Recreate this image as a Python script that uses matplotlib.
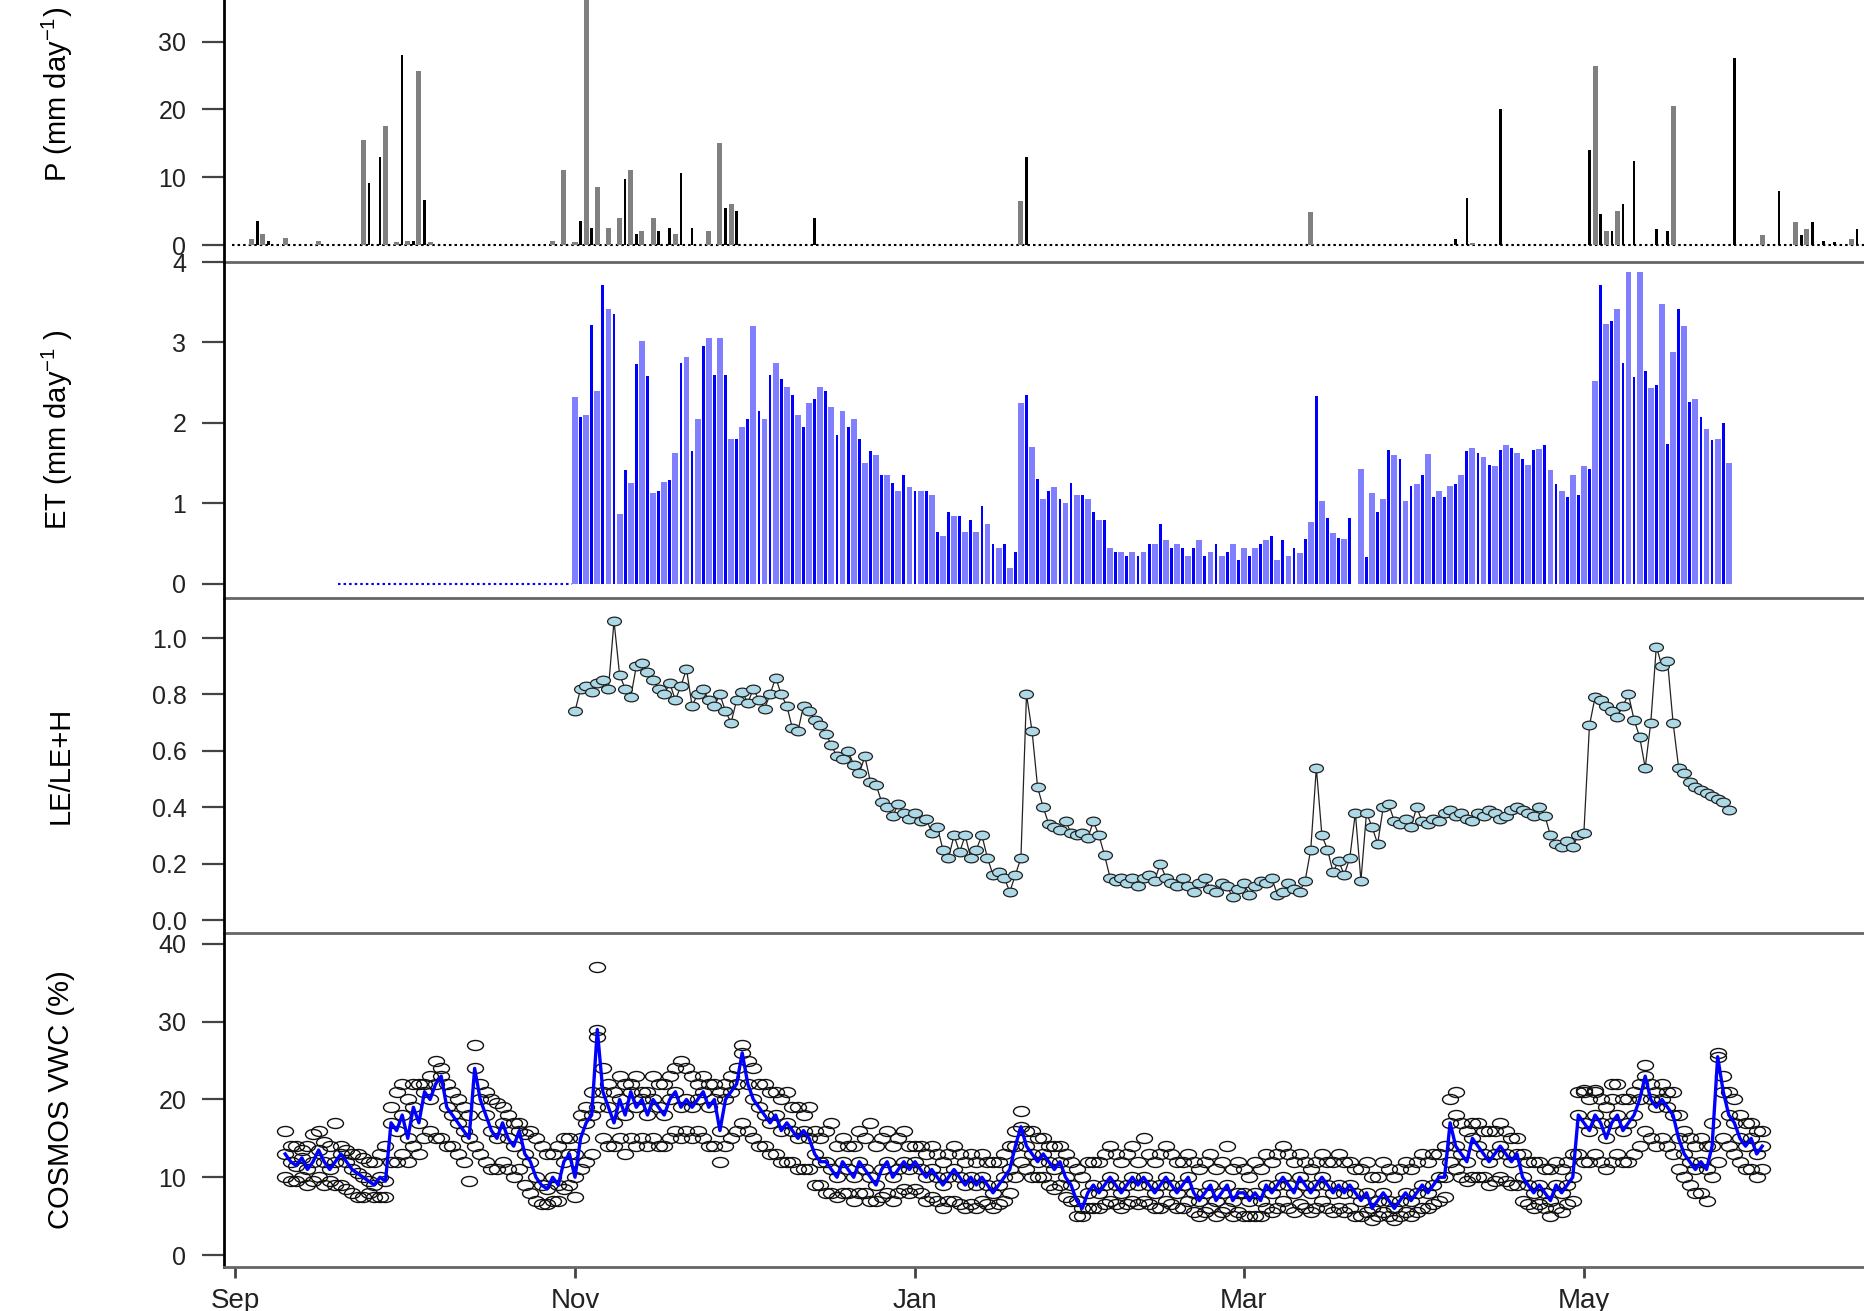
import numpy as np
import pandas as pd
import matplotlib
matplotlib.use("Agg")
import matplotlib.pyplot as plt
from matplotlib.path import Path
from matplotlib.markers import MarkerStyle
from matplotlib.transforms import Affine2D

plt.rcParams['font.family'] = ['Liberation Sans', 'DejaVu Sans']
plt.rcParams['mathtext.fontset'] = 'custom'
plt.rcParams['mathtext.rm'] = 'Liberation Sans'
plt.rcParams['mathtext.it'] = 'Liberation Sans:italic'

# all x values are days since 1 Sep 2014
start = pd.Timestamp('2014-09-01')

# precipitation (mm/day)
p_days = [3, 4, 5, 6, 9, 15, 23, 24, 26, 27, 29, 30, 31, 32, 33, 34, 35,
          57, 59, 61, 62, 63, 64, 65, 67, 69, 70, 71, 72, 73, 75, 76, 78, 79, 80, 82,
          85, 87, 88, 89, 90, 104, 141, 142, 193,
          219, 221, 222, 227, 243, 244, 245, 246, 247, 248, 249, 251, 255, 257, 258,
          269, 274, 277, 280, 281, 282, 283, 285, 287, 290, 291]
p_vals = [0.9, 3.6, 1.6, 0.6, 1.0, 0.6, 15.5, 9.2, 13.0, 17.5, 0.5, 28.0, 0.6, 0.6, 25.6, 6.6, 0.5,
          0.6, 11.0, 0.5, 3.6, 38.0, 2.5, 8.5, 2.5, 4.0, 9.7, 11.0, 1.6, 2.0, 4.0, 2.0, 2.5, 1.6, 10.6, 2.5,
          2.0, 15.0, 5.5, 6.0, 5.0, 4.0, 6.5, 13.0, 4.9,
          0.9, 6.9, 0.3, 20.1, 14.0, 26.4, 4.6, 2.0, 2.0, 5.0, 6.0, 12.4, 2.4, 2.0, 20.5,
          27.6, 1.5, 8.0, 3.4, 1.5, 2.4, 3.4, 0.6, 0.5, 0.9, 2.4]

# evapotranspiration (mm/day), zero from day 19, measured from day 61
et_first_day = 19
et_vals = [0.0] * 42 + [
    2.32, 2.08, 2.1, 3.22, 2.4, 3.72, 3.42, 3.35, 0.87, 1.42, 1.25, 2.73, 3.02, 2.58, 1.13, 1.16,
    1.27, 1.29, 1.63, 2.74, 2.82, 1.65, 2.05, 2.96,
    3.05, 2.6, 3.05, 2.6, 1.8, 1.8, 1.95, 2.05, 3.2, 2.15, 2.05, 2.6, 2.75, 2.55, 2.45, 2.35,
    2.1, 1.95, 2.25, 2.3, 2.45, 2.4, 2.2, 1.85, 2.15, 1.95, 2.05, 1.8, 1.5, 1.65, 1.6, 1.35,
    1.35, 1.25, 1.15, 1.35, 1.2, 1.15, 1.15, 1.15, 1.1,
    0.65, 0.6, 0.9, 0.85, 0.85, 0.65, 0.8, 0.65, 0.97, 0.75, 0.5, 0.45, 0.5, 0.2, 0.4,
    2.25, 2.35, 1.7, 1.3, 1.05, 1.15, 1.2, 1.05, 1.0, 1.25, 1.1, 1.1, 1.05, 0.9, 0.8, 0.8,
    0.45, 0.4, 0.4, 0.35, 0.4, 0.35, 0.4, 0.5, 0.5, 0.75, 0.55, 0.45, 0.5, 0.45, 0.35, 0.45,
    0.55, 0.35, 0.4, 0.5, 0.35, 0.4, 0.5, 0.3, 0.45, 0.35, 0.45, 0.5, 0.55, 0.6, 0.3, 0.55,
    0.35, 0.45,
    0.39, 0.56, 0.77, 2.33, 1.03, 0.82, 0.63, 0.57, 0.56, 0.82, np.nan, 1.43, 0.34, 1.13, 0.89,
    1.06, 1.67, 1.60, 1.55, 1.03, 1.22, 1.24, 1.36, 1.61, 1.08, 1.15, 1.08, 1.22, 1.24, 1.36,
    1.65, 1.69, 1.63, 1.58, 1.48, 1.46, 1.67, 1.73, 1.69, 1.63, 1.55, 1.48, 1.67, 1.68, 1.73,
    1.42, 1.24, 1.16, 1.08, 1.36, 1.10, 1.47, 1.43, 2.52, 3.72, 3.23, 3.27, 3.41, 2.74, 3.87,
    2.57, 3.87, 2.64, 2.44, 2.47, 3.48, 1.74, 2.88, 3.41, 3.21, 2.26, 2.30, 2.07, 1.93, 1.79,
    1.80, 2.0, 1.50]

# evaporative fraction LE/(LE+H), daily from day 61
le_first_day = 61
le_vals = [
    0.74, 0.82, 0.83, 0.81, 0.84, 0.85, 0.82, 1.06, 0.87, 0.82,
    0.79, 0.9, 0.91, 0.88, 0.85, 0.82, 0.8, 0.84, 0.78, 0.83,
    0.89, 0.76, 0.8, 0.82, 0.78, 0.76, 0.8, 0.74, 0.7, 0.78,
    0.81, 0.77, 0.82, 0.78, 0.75, 0.8, 0.86, 0.8, 0.76, 0.68,
    0.67, 0.76, 0.74, 0.71, 0.69, 0.66, 0.62, 0.58, 0.57, 0.6,
    0.55, 0.52, 0.58, 0.49, 0.48, 0.42, 0.4, 0.37, 0.41, 0.38,
    0.36, 0.38, 0.35, 0.36, 0.31, 0.33, 0.25, 0.22, 0.3, 0.24,
    0.3, 0.22, 0.25, 0.3, 0.22, 0.16, 0.17, 0.15, 0.1, 0.16,
    0.22, 0.8, 0.67, 0.47, 0.4, 0.34, 0.33, 0.32, 0.35, 0.31,
    0.3, 0.31, 0.29, 0.35, 0.3, 0.23, 0.15, 0.14, 0.15, 0.13,
    0.15, 0.12, 0.15, 0.16, 0.14, 0.2, 0.15, 0.13, 0.12, 0.15,
    0.12, 0.1, 0.13, 0.15, 0.11, 0.1, 0.13, 0.12, 0.08, 0.11,
    0.13, 0.09, 0.12, 0.14, 0.13, 0.15, 0.09, 0.1, 0.13, 0.11,
    0.1, 0.14, 0.25, 0.54, 0.3, 0.25, 0.17, 0.21, 0.16, 0.22,
    0.38, 0.14, 0.38, 0.33, 0.27, 0.4, 0.41, 0.35, 0.34, 0.36,
    0.33, 0.4, 0.35, 0.34, 0.36, 0.35, 0.38, 0.39, 0.37, 0.38,
    0.36, 0.35, 0.38, 0.37, 0.39, 0.38, 0.36, 0.37, 0.39, 0.4,
    0.39, 0.38, 0.37, 0.4, 0.37, 0.3, 0.27, 0.26, 0.28, 0.26,
    0.3, 0.31, 0.69, 0.79, 0.78, 0.76, 0.74, 0.72, 0.76, 0.8,
    0.71, 0.65, 0.54, 0.7, 0.97, 0.9, 0.92, 0.7, 0.54, 0.52,
    0.49, 0.47, 0.46, 0.45, 0.44, 0.43, 0.42, 0.39]

# COSMOS soil moisture (%), daily from day 9: mean line, upper and lower spread of the obs
vwc_first_day = 9
vwc_line = [
    13, 12, 11.5, 12.5, 11, 12, 13.5, 12, 11, 12,
    13, 12, 11, 10.5, 10, 9.5, 9, 10, 9.5, 17,
    16, 18, 15, 19, 17, 21, 20, 22, 23, 19,
    18, 17, 16, 15, 24, 20, 18, 16, 15, 17,
    15, 14, 16, 13, 12, 10, 9, 8.5, 10, 9,
    12, 13, 10, 15, 17, 18, 29, 21, 19, 17,
    20, 18, 21, 19, 20, 18, 20, 19, 18, 20,
    21, 19, 20, 19, 20, 21, 19, 20, 16, 20,
    21, 22, 26, 22, 20, 19, 18, 17, 18, 16,
    17, 16, 15, 16, 15, 13, 12, 12, 11, 10,
    12, 11, 10, 12, 11, 10, 9, 11, 12, 10,
    11, 12, 11, 12, 11, 10, 11, 10, 9, 10,
    11, 10, 9, 10, 9, 10, 9, 8, 9, 10,
    11, 14, 16.5, 14, 13, 12, 13, 12, 11, 12,
    10, 9, 7, 6, 8, 9, 8, 9, 10, 9,
    8, 9, 10, 9, 10, 9, 8, 9, 10, 9,
    8, 9, 10, 8, 7, 8, 9, 7, 8, 9,
    7, 8, 8, 7, 8, 7, 9, 8, 9, 10,
    9, 8, 10, 9, 8, 9, 10, 9, 8, 9,
    8, 9, 8, 7, 8, 6, 7, 8, 7, 6,
    7, 8, 7, 8, 9, 8, 9, 10, 10, 17,
    14, 13, 12, 15, 14, 13, 12, 13, 14, 13,
    12, 13, 10, 9, 8, 9, 8, 7, 9, 8,
    9, 10, 18, 17, 16, 18, 17, 15, 17, 18,
    16, 17, 18, 20, 23, 20, 19, 20, 19, 18,
    15, 13, 12, 11, 12, 11, 14, 25.5, 21, 18,
    17, 15, 14, 15, 13, 14]
vwc_hi = [
    16, 14, 14, 13.5, 14, 15.5, 16, 14.5, 14, 17,
    14, 13.5, 13, 13, 12.5, 12, 12, 13, 14, 19,
    21, 22, 20, 22, 22, 22, 23, 25, 24, 22,
    21, 20, 19, 18, 27, 22, 21, 20, 19.5, 19,
    18, 17, 17, 15.5, 16, 15, 14, 13, 13, 14,
    15, 15, 13, 18, 19, 21, 28, 24, 22, 21,
    23, 22, 22, 23, 21, 21, 23, 22, 22, 23,
    24, 25, 24, 23, 22, 23, 22, 22, 21, 22,
    23, 24, 27, 25, 24, 22, 22, 21, 21, 20,
    21, 19, 19, 18, 19, 16, 15, 16, 17, 14,
    15, 14, 14, 16, 15, 17, 14, 15, 16, 14,
    15, 16, 14, 14, 14, 13, 14, 13, 12, 13,
    14, 13, 12, 13, 12, 13, 12, 12, 12, 13,
    14, 16, 18.5, 16, 16, 15, 15, 14, 14, 14,
    13, 12, 11, 10, 12, 12, 12, 13, 14, 13,
    12, 13, 14, 12, 15, 13, 12, 13, 14, 13,
    12, 12, 13, 12, 11, 12, 13, 11, 12, 14,
    11, 12, 11, 10, 12, 11, 13, 12, 13, 14,
    13, 12, 13, 12, 11, 12, 13, 12, 12, 13,
    12, 12, 11, 11, 12, 10, 10, 12, 11, 10,
    11, 12, 11, 12, 13, 12, 13, 13, 14, 20,
    18, 17, 16, 17, 17, 16, 16, 16, 17, 16,
    15, 15, 13, 12, 12, 12, 11, 11, 12, 11,
    12, 13, 21, 21, 20, 21, 20, 19, 20, 22,
    20, 20, 21, 22, 24.5, 22, 21, 22, 21, 21,
    18, 16, 15, 14, 15, 14, 17, 26, 23, 21,
    20, 18, 17, 17, 16, 16]
vwc_lo = [
    10, 9.5, 9.5, 10, 9, 9.5, 10, 9, 9.5, 9,
    9, 8.5, 8, 7.5, 7.5, 8, 7.5, 7.5, 7.5, 12,
    12, 13, 12, 14, 13, 15, 16, 15, 15, 14,
    14, 13, 12, 9.5, 14, 13, 12, 11, 11, 12,
    11, 10, 11, 9, 8, 7, 6.5, 6.5, 7, 7,
    8.5, 9, 7.5, 11, 12, 13, 19, 15, 14, 14,
    15, 13, 15, 14, 15, 14, 15, 14, 14, 15,
    16, 15, 16, 15, 16, 15, 14, 14, 12, 14,
    15, 16, 17, 16, 15, 14, 14, 13, 13, 12,
    12, 12, 11, 11, 11, 9, 9, 8, 8, 7.5,
    8, 8, 7, 8, 8, 7, 7, 7.5, 8, 7,
    8, 8.5, 8, 8.5, 8, 7, 7.5, 7, 6, 7,
    7, 6.5, 6, 6.5, 6, 7, 6.5, 6, 6.5, 7,
    8, 10, 12, 11, 10, 10, 10, 9, 8.5, 9,
    7.5, 7, 5, 5, 6, 6, 6, 6.5, 7, 6.5,
    6, 6.5, 7, 6.5, 7, 6.5, 6, 6, 7, 6.5,
    6, 6, 7, 5.5, 5, 5.5, 6, 5, 5.5, 6,
    5, 5.5, 5, 5, 5, 5, 6, 5.5, 6, 7,
    6, 5.5, 6.5, 6, 5.5, 6, 7, 6, 5.5, 6,
    5.5, 6, 5, 5, 5.5, 4.5, 5, 5.5, 5, 4.5,
    5, 5.5, 5, 5.5, 6, 6, 6.5, 7, 7.5, 12,
    11, 10, 9.5, 10, 10, 10, 9, 9.5, 10, 9.5,
    9, 9, 7, 6.5, 6, 6.5, 6, 5, 6, 5.5,
    6.5, 7, 13, 12, 12, 13, 12, 11, 12, 13,
    12, 12, 13, 14, 16, 15, 14, 15, 14, 13,
    11, 10, 9, 8, 8, 7, 10, 12, 15, 14,
    13, 12, 11, 11, 10, 11]
vwc_out_days = [65, 219, 242, 244, 247]
vwc_out_vals = [37, 21, 21.2, 21.2, 22]

month_ticks = pd.date_range('2014-09-01', '2015-05-01', freq='2MS')
tick_days = [(t - start).days for t in month_ticks]
tick_labels = [t.strftime('%b') for t in month_ticks]

# ---- layout (figure is 1865 x 1311 px, panels extend past the right edge)
W, H = 1865, 1311
left = 224 / W
width = 0.93
px_per_day = 5.574
xlim = (-1.97, -1.97 + width * W / px_per_day)


def rect(top_px, bot_px):
    return [left, 1 - bot_px / H, width, (bot_px - top_px) / H]


fig = plt.figure(figsize=(W / 100, H / 100), dpi=100)
ax_p = fig.add_axes(rect(-74, 262))
ax_et = fig.add_axes(rect(262, 598))
ax_le = fig.add_axes(rect(598, 933))
ax_v = fig.add_axes(rect(933, 1267))
axes = [ax_p, ax_et, ax_le, ax_v]

ell = MarkerStyle(Path.unit_circle().transformed(Affine2D().scale(1.6, 1.0)))


def dark_day(d):
    # alternate dark/light bars, phase flips after the missing day in March
    return (d % 2 == 0) if d < 201 else (d % 2 == 1)


# P panel
pd_arr = np.array(p_days)
pv_arr = np.array(p_vals)
dk = np.array([dark_day(d) for d in p_days])
ax_p.plot([-0.5, xlim[1]], [0, 0], color='black', lw=1.5, dashes=(1.2, 1.47), zorder=1)
ax_p.bar(pd_arr[~dk], pv_arr[~dk], width=0.9, color='#808080', linewidth=0, zorder=2)
ax_p.bar(pd_arr[dk], pv_arr[dk], width=0.45, color='black', linewidth=0, zorder=3)
ax_p.set_ylim(-2.5, 47.06)
ax_p.set_yticks([0, 10, 20, 30, 40])
ax_p.set_ylabel(r'P (mm day$^{-1}$)', fontsize=21)

# ET panel
et = np.array(et_vals, dtype=float)
et_days = np.arange(et_first_day, et_first_day + len(et))
zero = et == 0
ax_et.plot([et_days[zero].min() - 0.5, et_days[zero].max() + 0.5], [0, 0], color='blue',
           lw=1.5, dashes=(1.2, 1.47), zorder=1)
pos = et > 0
dk = np.array([dark_day(d) for d in et_days])
ax_et.bar(et_days[pos & ~dk], et[pos & ~dk], width=1.05, color='#7f7fff', linewidth=0, zorder=2)
ax_et.bar(et_days[pos & dk], et[pos & dk], width=0.5, color='#0000ff', linewidth=0, zorder=3)
ax_et.set_ylim(-0.174, 4.0)
ax_et.set_yticks([0, 1, 2, 3, 4])
ax_et.set_ylabel(r'ET (mm day$^{-1}$ )', fontsize=21)

# LE/(LE+H) panel
le_days = np.arange(le_first_day, le_first_day + len(le_vals))
ax_le.plot(le_days, le_vals, '-', color='#222222', lw=0.9, zorder=2)
ax_le.plot(le_days, le_vals, ls='none', marker=ell, ms=10, mfc='#add8e6', mec='#222222',
           mew=0.9, zorder=3)
ax_le.set_ylim(-0.046, 1.142)
ax_le.set_yticks([0.0, 0.2, 0.4, 0.6, 0.8, 1.0])
ax_le.set_yticklabels(['0.0', '0.2', '0.4', '0.6', '0.8', '1.0'])
ax_le.set_ylabel('LE/LE+H', fontsize=21)

# COSMOS panel
v_days = np.arange(vwc_first_day, vwc_first_day + len(vwc_line))
for series in (vwc_hi, vwc_lo, vwc_line):
    ax_v.plot(v_days, series, ls='none', marker=ell, ms=11.5, mfc='none', mec='#111111',
              mew=1.0, zorder=2)
ax_v.plot(vwc_out_days, vwc_out_vals, ls='none', marker=ell, ms=11.5, mfc='none',
          mec='#111111', mew=1.0, zorder=2)
ax_v.plot(v_days, vwc_line, '-', color='#0000ff', lw=2.4, zorder=3)
ax_v.set_ylim(-1.54, 41.41)
ax_v.set_yticks([0, 10, 20, 30, 40])
ax_v.set_ylabel('COSMOS VWC (%)', fontsize=21)

for ax in axes:
    ax.set_xlim(*xlim)
    ax.spines['top'].set_visible(False)
    ax.spines['right'].set_visible(False)
    ax.spines['left'].set_color('black')
    ax.spines['left'].set_linewidth(2.0)
    ax.spines['bottom'].set_color('#666666')
    ax.spines['bottom'].set_linewidth(2.0)
    ax.tick_params(axis='y', direction='out', length=16, width=1.6, color='#444444',
                   labelsize=18, pad=11, labelcolor='#222222')
    ax.tick_params(axis='x', bottom=False, labelbottom=False)
    ax.yaxis.set_label_coords(-0.086, 0.5)
    ax.patch.set_alpha(0)

ax_v.set_xticks(tick_days)
ax_v.set_xticklabels(tick_labels)
ax_v.tick_params(axis='x', bottom=True, labelbottom=True, direction='out', length=8,
                 width=2.0, color='#444444', labelsize=20, pad=7, labelcolor='#222222')

fig.savefig('out.png', dpi=100)
